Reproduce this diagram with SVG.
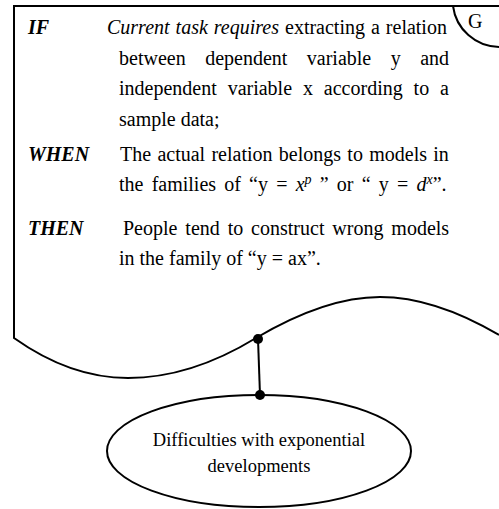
<svg xmlns="http://www.w3.org/2000/svg" width="499" height="509" viewBox="0 0 499 509">
<style>
.ln{fill:none;stroke:#000;stroke-width:2}
.t{font-family:"Liberation Serif","Times New Roman",serif;font-size:20px;fill:#000}
.k{font-weight:bold;font-style:italic}
.i{font-style:italic}
.s{font-family:"Liberation Serif","Times New Roman",serif;font-size:18.5px;fill:#000;text-anchor:middle}
.dot{fill:#000}
</style>
<rect width="499" height="509" fill="#fff"/>
<g id="rule">
<path class="ln" d="M499,6 H14 V338 C45,360 85,378 128,378 C175,378 220,360 256,338 C300,312 340,297 380,297 C420,297 460,312 499,335"/>
<path class="ln" d="M453,6 A47,47 0 0 0 499,47"/>
<text class="t" x="468" y="28" font-size="21">G</text>
<text class="t k" x="28" y="34">IF</text>
<text class="t" x="107" y="34" word-spacing="1"><tspan class="i">Current task requires</tspan> extracting a relation</text>
<text class="t" x="119" y="65" word-spacing="14.5">between dependent variable y and</text>
<text class="t" x="119" y="95" word-spacing="5.9">independent variable x according to a</text>
<text class="t" x="119" y="126">sample data;</text>
<text class="t k" x="28" y="161">WHEN</text>
<text class="t" x="120" y="161" word-spacing="1.3">The actual relation belongs to models in</text>
<text class="t" x="119" y="191" word-spacing="3.2">the families of  “y = <tspan class="i">x</tspan><tspan class="i" font-size="14" dy="-7">p</tspan><tspan dy="7"> ” or “ y = </tspan><tspan class="i">d</tspan><tspan class="i" font-size="14" dy="-7">x</tspan><tspan dy="7">”.</tspan></text>
<text class="t k" x="28" y="235">THEN</text>
<text class="t" x="123" y="235" word-spacing="2.9">People tend to construct wrong models</text>
<text class="t" x="119" y="265">in the family of “y = ax”.</text>
</g>
<g id="connectors">
<line class="ln" x1="258" y1="339" x2="260" y2="395"/>
<circle class="dot" cx="258" cy="339" r="5"/>
<circle class="dot" cx="260" cy="395" r="5"/>
</g>
<g id="difficulties">
<ellipse class="ln" cx="259" cy="451" rx="152" ry="56"/>
<text class="s" x="259" y="446">Difficulties with exponential</text>
<text class="s" x="259" y="472">developments</text>
</g>
</svg>
